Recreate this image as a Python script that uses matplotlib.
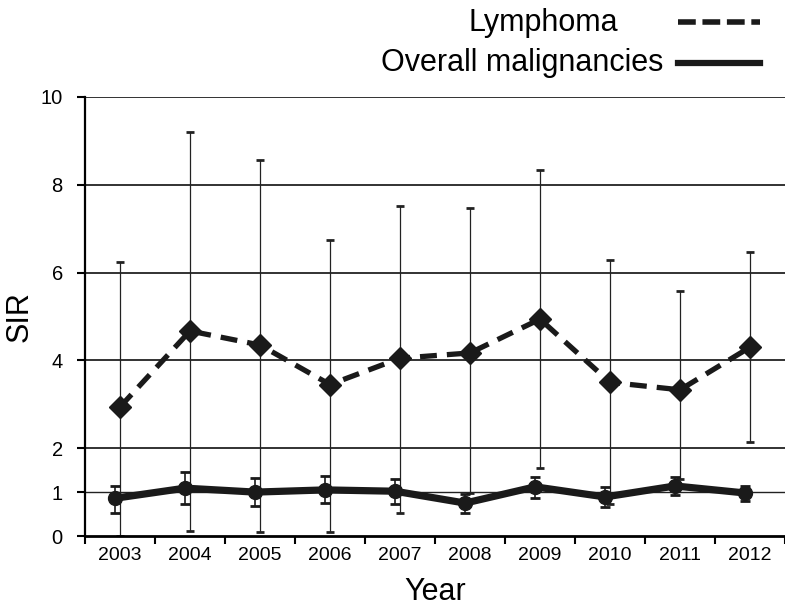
import matplotlib
matplotlib.use('Agg')
from matplotlib import pyplot as plt
from matplotlib.lines import Line2D
import numpy as np

plt.rcParams['font.family'] = ['Liberation Sans', 'DejaVu Sans']

years = ['2003', '2004', '2005', '2006', '2007', '2008', '2009', '2010', '2011', '2012']

lymphoma = [2.94, 4.67, 4.35, 3.45, 4.05, 4.17, 4.94, 3.5, 3.33, 4.3]
lymphoma_low = [0.0, 0.11, 0.09, 0.08, 0.52, 0.98, 1.55, 0.73, 1.3, 2.14]
lymphoma_high = [6.24, 9.2, 8.56, 6.74, 7.52, 7.47, 8.34, 6.29, 5.58, 6.47]

overall = [0.86, 1.09, 1.0, 1.05, 1.02, 0.75, 1.12, 0.89, 1.14, 0.98]
overall_low = [0.52, 0.73, 0.68, 0.75, 0.73, 0.52, 0.87, 0.66, 0.93, 0.8]
overall_high = [1.14, 1.46, 1.32, 1.37, 1.3, 0.96, 1.34, 1.12, 1.34, 1.14]

y_ticks = [0, 1, 2, 4, 6, 8, 10]


def main():
    fig = plt.figure(figsize=(7.85, 6.1), dpi=100)
    ax = fig.add_axes([0.1083, 0.1213, 0.8917, 0.7197])

    x = np.arange(len(years))
    x_overall = x - 0.07

    ly = np.array(lymphoma)
    ov = np.array(overall)

    # gridlines
    for t in y_ticks[1:]:
        ax.axhline(t, color='#222222', lw=1.3 if t != 1 else 1.0, zorder=1)

    # lymphoma
    ax.errorbar(x, ly, yerr=[ly - np.array(lymphoma_low), np.array(lymphoma_high) - ly],
                fmt='none', ecolor='#222222', elinewidth=0.9, capsize=3, capthick=2, zorder=2)
    ax.plot(x, ly, color='#1a1a1a', lw=3.8, dashes=(3.2, 1.9), marker='D',
            markersize=11, zorder=4, solid_capstyle='butt')

    # overall malignancies
    ax.errorbar(x_overall, ov, yerr=[ov - np.array(overall_low), np.array(overall_high) - ov],
                fmt='none', ecolor='#1a1a1a', elinewidth=1.2, capsize=3.5, capthick=2, zorder=3)
    ax.plot(x_overall, ov, color='#1a1a1a', lw=5.2, marker='o', markersize=10, zorder=5)

    ax.set_xlim(-0.5, 9.4)
    ax.set_ylim(0, 10)
    ax.set_yticks(y_ticks)
    ax.set_xticks(x)
    ax.set_xticklabels(years)
    ax.set_xticks(list(x - 0.5) + [9.5], minor=True)
    ax.tick_params(axis='x', which='major', length=0, pad=8, labelsize=14)
    ax.tick_params(axis='x', which='minor', length=6, width=1.5, direction='out')
    ax.tick_params(axis='y', length=6, width=1.5, pad=10, labelsize=14.5)

    for s in ['top', 'right']:
        ax.spines[s].set_visible(False)
    ax.spines['left'].set_linewidth(1.6)
    ax.spines['bottom'].set_linewidth(2)

    ax.set_ylabel('SIR', fontsize=22, labelpad=4)
    ax.set_xlabel('Year', fontsize=22, labelpad=9)

    # legend drawn in figure coordinates
    fig.text(543 / 785, 1 - 23 / 610, 'Lymphoma', fontsize=22, ha='center', va='center')
    fig.text(663 / 785, 1 - 63 / 610, 'Overall malignancies', fontsize=22, ha='right', va='center')
    fig.add_artist(Line2D([678 / 785, 760 / 785], [1 - 22 / 610, 1 - 22 / 610],
                          color='#1a1a1a', lw=4, dashes=(3.2, 1.2)))
    fig.add_artist(Line2D([678 / 785, 760 / 785], [1 - 63 / 610, 1 - 63 / 610],
                          color='#1a1a1a', lw=4.5))

    fig.savefig('out.png', dpi=100)


if __name__ == "__main__":
    main()
